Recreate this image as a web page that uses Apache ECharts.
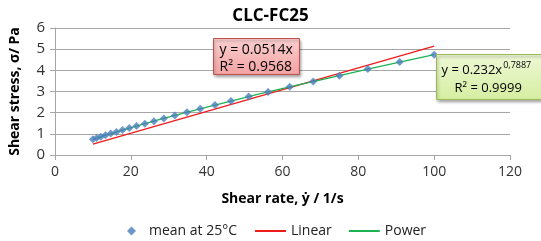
<!DOCTYPE html>
<html>
<head>
<meta charset="utf-8">
<script src="https://cdn.jsdelivr.net/npm/echarts@6/dist/echarts.min.js"></script>
<style>
  html, body { margin: 0; padding: 0; background: #fff; }
  #chart { width: 541px; height: 241px; }
</style>
</head>
<body>
<div id="chart"></div>
<script>
// shear rate (1/s) and mean shear stress (Pa)
var shearRate = [10, 11.0, 12.1, 13.3, 14.7, 16.2, 17.8, 19.6, 21.5, 23.7, 26.1, 28.7, 31.6,
  34.8, 38.3, 42.2, 46.4, 51.1, 56.2, 61.9, 68.1, 75.0, 82.5, 90.9, 100];
var stressMean = [0.74, 0.80, 0.86, 0.93, 1.01, 1.09, 1.18, 1.27, 1.37, 1.48, 1.60, 1.73, 1.87,
  2.02, 2.18, 2.36, 2.55, 2.76, 2.98, 3.22, 3.47, 3.75, 4.06, 4.39, 4.74];
// trend lines
var linearX = [10, 100];
var linearY = [0.514, 5.14];
var powerY = stressMean;

var xTicks = [0, 20, 40, 60, 80, 100, 120];

function pairs(xs, ys) {
  var out = [];
  for (var i = 0; i < xs.length; i++) out.push([xs[i], ys[i]]);
  return out;
}

var font = "'Open Sans', 'Noto Sans', sans-serif";
var boxFont = '13px ' + font;
// width of the base text so the exponent sits right after it
var ctx = document.createElement('canvas').getContext('2d');
ctx.font = boxFont;
var baseW = ctx.measureText('y = 0.232x').width;

var chart = echarts.init(document.getElementById('chart'));
chart.setOption({
  animation: false,
  textStyle: { fontFamily: font },
  title: {
    text: 'CLC-FC25',
    left: 'center',
    top: 3,
    textStyle: { fontSize: 17, fontWeight: 'bold', color: '#000', fontFamily: font }
  },
  grid: { left: 50, right: 31, top: 28, bottom: 86 },
  xAxis: {
    type: 'value',
    min: xTicks[0],
    max: xTicks[xTicks.length - 1],
    interval: 20,
    name: 'Shear rate, ẏ / 1/s',
    nameLocation: 'middle',
    nameGap: 37,
    nameTextStyle: { fontSize: 14, fontWeight: 'bold', color: '#000' },
    axisLine: { lineStyle: { color: '#a6a6a6' } },
    axisTick: { show: true, length: 5, lineStyle: { color: '#a6a6a6' } },
    axisLabel: { fontSize: 14, color: '#333', margin: 10 },
    splitLine: { show: false }
  },
  yAxis: {
    type: 'value',
    min: 0,
    max: 6,
    interval: 1,
    name: 'Shear stress, σ/ Pa',
    nameLocation: 'middle',
    nameGap: 33,
    nameTextStyle: { fontSize: 14, fontWeight: 'bold', color: '#000' },
    axisLine: { show: true, lineStyle: { color: '#a6a6a6' } },
    axisTick: { show: true, length: 5, lineStyle: { color: '#a6a6a6' } },
    axisLabel: { fontSize: 15, color: '#333', margin: 10 },
    splitLine: { lineStyle: { color: '#a6a6a6' } }
  },
  legend: [
    {
      data: [{ name: 'mean at 25°C', icon: 'diamond' }],
      left: 122, top: 219,
      itemWidth: 9, itemHeight: 9,
      textStyle: { fontSize: 14, color: '#222', padding: [0, 0, 0, 8] }
    },
    {
      data: ['Linear', 'Power'],
      left: 249, top: 219,
      itemWidth: 31, itemHeight: 2, itemGap: 16,
      textStyle: { fontSize: 14, color: '#222' }
    }
  ],
  series: [
    {
      name: 'Linear',
      type: 'line',
      data: pairs(linearX, linearY),
      showSymbol: false,
      symbol: 'none',
      lineStyle: { color: '#ee1c1c', width: 1.3 },
      itemStyle: { color: '#ee1c1c' },
      z: 2
    },
    {
      name: 'Power',
      type: 'line',
      data: pairs(shearRate, powerY),
      showSymbol: false,
      symbol: 'none',
      smooth: true,
      lineStyle: { color: '#1db254', width: 1.3 },
      itemStyle: { color: '#1db254' },
      z: 3
    },
    {
      name: 'mean at 25°C',
      type: 'scatter',
      data: pairs(shearRate, stressMean),
      symbol: 'diamond',
      symbolSize: 8,
      itemStyle: { color: '#4a7ebb' },
      z: 4
    }
  ],
  graphic: [
    {
      type: 'group', left: 213, top: 38, z: 100,
      children: [
        {
          type: 'rect', shape: { x: 0, y: 0, width: 86, height: 36 }, z: 100,
          style: {
            fill: new echarts.graphic.LinearGradient(0, 0, 0, 1, [
              { offset: 0, color: '#fbd0d0' }, { offset: 1, color: '#f3a2a2' }
            ]),
            stroke: '#c0504d', lineWidth: 1,
            shadowBlur: 3, shadowOffsetX: 1, shadowOffsetY: 2, shadowColor: 'rgba(0,0,0,0.35)'
          }
        },
        {
          type: 'text', x: 6, y: 3, z: 101,
          style: { text: 'y = 0.0514x\nR² = 0.9568', font: '14px ' + font, fill: '#000', lineHeight: 17 }
        }
      ]
    },
    {
      type: 'group', left: 436, top: 54, z: 100,
      children: [
        {
          type: 'rect', shape: { x: 0, y: 0, width: 110, height: 45 }, z: 100,
          style: {
            fill: new echarts.graphic.LinearGradient(0, 0, 0, 1, [
              { offset: 0, color: '#eef8d6' }, { offset: 1, color: '#d5eea0' }
            ]),
            stroke: '#9bbb59', lineWidth: 1,
            shadowBlur: 3, shadowOffsetX: 1, shadowOffsetY: 2, shadowColor: 'rgba(0,0,0,0.35)'
          }
        },
        {
          type: 'text', x: 5, y: 9, z: 101,
          style: { text: 'y = 0.232x', font: boxFont, fill: '#000' }
        },
        {
          type: 'text', x: 5 + baseW + 1, y: 6, z: 101,
          style: { text: '0,7887', font: '9px ' + font, fill: '#000' }
        },
        {
          type: 'text', x: 18, y: 27, z: 101,
          style: { text: 'R² = 0.9999', font: boxFont, fill: '#000' }
        }
      ]
    }
  ]
});
</script>
</body>
</html>
